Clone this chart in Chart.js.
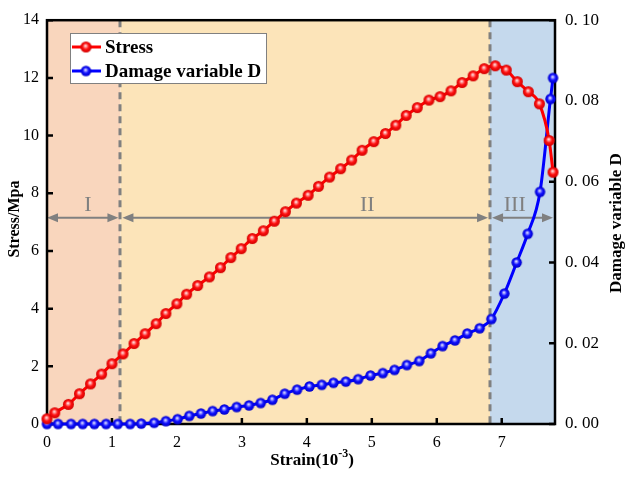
<!DOCTYPE html>
<html>
<head>
<meta charset="utf-8">
<script src="https://cdn.jsdelivr.net/npm/chart.js@4/dist/chart.umd.min.js"></script>
<style>
  html, body { margin: 0; padding: 0; background: #ffffff; }
  #wrap { width: 626px; height: 478px; }
</style>
</head>
<body>
<div id="wrap"><canvas id="chart" width="626" height="478"></canvas></div>
<script>
// Stress–strain curve (strain in 10^-3, stress in MPa)
const stressStrain = [0.00, 0.12, 0.33, 0.50, 0.67, 0.84, 1.00, 1.17, 1.34, 1.51, 1.68, 1.83, 2.00, 2.15, 2.32, 2.50,
  2.67, 2.83, 2.99, 3.16, 3.33, 3.50, 3.67, 3.84, 4.02, 4.18, 4.35, 4.52, 4.69, 4.85, 5.03, 5.21, 5.37, 5.53,
  5.70, 5.88, 6.05, 6.22, 6.39, 6.56, 6.73, 6.90, 7.07, 7.24, 7.41, 7.58, 7.73, 7.79];
const stressValues = [0.18, 0.39, 0.68, 1.05, 1.39, 1.73, 2.09, 2.43, 2.79, 3.13, 3.48, 3.83, 4.17, 4.50, 4.80, 5.10,
  5.42, 5.77, 6.08, 6.43, 6.70, 7.03, 7.36, 7.66, 7.93, 8.24, 8.56, 8.85, 9.15, 9.49, 9.79, 10.07, 10.36, 10.70,
  10.97, 11.23, 11.35, 11.55, 11.84, 12.07, 12.32, 12.42, 12.27, 11.87, 11.52, 11.10, 9.83, 8.73];

// Damage variable D against strain
const damageStrain = [0.00, 0.17, 0.37, 0.55, 0.73, 0.91, 1.09, 1.28, 1.45, 1.65, 1.83, 2.01, 2.19, 2.37, 2.55, 2.73,
  2.92, 3.11, 3.29, 3.47, 3.66, 3.85, 4.04, 4.23, 4.41, 4.60, 4.79, 4.98, 5.17, 5.35, 5.54, 5.73, 5.91, 6.09,
  6.28, 6.47, 6.66, 6.84, 7.04, 7.23, 7.40, 7.59, 7.75, 7.79];
const damageValues = [0, 0, 0, 0, 0, 0, 0, 0, 0.0001, 0.0003, 0.0007, 0.0012, 0.0020, 0.0026, 0.0032, 0.0036,
  0.0042, 0.0046, 0.0052, 0.0060, 0.0075, 0.0085, 0.0093, 0.0097, 0.0102, 0.0105, 0.0111, 0.0120, 0.0126, 0.0134, 0.0146, 0.0156, 0.0175, 0.0193,
  0.0207, 0.0224, 0.0237, 0.0260, 0.0323, 0.0400, 0.0471, 0.0575, 0.0805, 0.0857];

// Axis ticks
const strainTicks = [0, 1, 2, 3, 4, 5, 6, 7];
const stressTicks = [0, 2, 4, 6, 8, 10, 12, 14];
const damageTicks = [0, 0.02, 0.04, 0.06, 0.08, 0.10];
const damageTickLabels = ['0. 00', '0. 02', '0. 04', '0. 06', '0. 08', '0. 10'];

// Deformation stages: boundaries on the strain axis, names, label anchors
const stageBounds = [0, 1.13, 6.82, 7.82];
const stageNames = ['I', 'II', 'III'];
const stageLabelStrain = [0.63, 4.93, 7.2];
const stageArrowStress = 7.15;
const stageLabelStress = 7.6;

const stageFill = ['#f9d6bd', '#fce4b9', '#c5d9ed'];
const GREY = '#808080';
const SERIF = '"Liberation Serif", "DejaVu Serif", serif';

function ballImage(r, hi, mid, edge) {
  const s = Math.ceil(r * 2) + 2;
  const c = document.createElement('canvas');
  c.width = s; c.height = s;
  const g = c.getContext('2d');
  const cx = s / 2, cy = s / 2;
  const grad = g.createRadialGradient(cx - r * 0.1, cy - r * 0.25, 0, cx, cy, r);
  grad.addColorStop(0, '#ffffff');
  grad.addColorStop(0.22, hi);
  grad.addColorStop(0.55, mid);
  grad.addColorStop(1, edge);
  g.fillStyle = grad;
  g.beginPath();
  g.arc(cx, cy, r, 0, Math.PI * 2);
  g.fill();
  return c;
}
const redBall = ballImage(5.5, '#ff9a9a', '#ff1010', '#d00000');
const blueBall = ballImage(5.2, '#9a9aff', '#1010ff', '#0000c8');

const toPoints = (xs, ys) => xs.map((x, i) => ({ x, y: ys[i] }));

const decorations = {
  id: 'decorations',
  beforeDatasetsDraw(chart) {
    const { ctx, chartArea: a, scales } = chart;
    const xs = scales.x, ys = scales.y;
    ctx.save();
    // stage backgrounds
    for (let i = 0; i < stageNames.length; i++) {
      const x0 = xs.getPixelForValue(stageBounds[i]);
      const x1 = Math.min(xs.getPixelForValue(stageBounds[i + 1]), a.right);
      ctx.fillStyle = stageFill[i];
      ctx.fillRect(x0, a.top, x1 - x0, a.bottom - a.top);
    }
    // dashed stage boundaries
    ctx.strokeStyle = GREY;
    ctx.lineWidth = 3;
    ctx.setLineDash([7, 5]);
    for (let i = 1; i < stageBounds.length - 1; i++) {
      const x = Math.round(xs.getPixelForValue(stageBounds[i]));
      ctx.beginPath();
      ctx.moveTo(x, a.top);
      ctx.lineTo(x, a.bottom);
      ctx.stroke();
    }
    ctx.setLineDash([]);
    // double-headed range arrows
    const ay = ys.getPixelForValue(stageArrowStress);
    ctx.lineWidth = 2;
    ctx.fillStyle = GREY;
    const head = (tip, dir) => {
      ctx.beginPath();
      ctx.moveTo(tip, ay);
      ctx.lineTo(tip - dir * 11, ay - 4.5);
      ctx.lineTo(tip - dir * 11, ay + 4.5);
      ctx.closePath();
      ctx.fill();
    };
    for (let i = 0; i < stageNames.length; i++) {
      const x0 = xs.getPixelForValue(stageBounds[i]) + (i === 0 ? 0 : 2);
      const x1 = Math.min(xs.getPixelForValue(stageBounds[i + 1]), a.right) - 2;
      ctx.beginPath();
      ctx.moveTo(x0 + 4, ay);
      ctx.lineTo(x1 - 4, ay);
      ctx.stroke();
      head(x0, -1);
      head(x1, 1);
      ctx.font = '22px ' + SERIF;
      ctx.textAlign = 'center';
      ctx.textBaseline = 'middle';
      ctx.fillText(stageNames[i], xs.getPixelForValue(stageLabelStrain[i]), ys.getPixelForValue(stageLabelStress));
    }
    // frame
    ctx.strokeStyle = '#000000';
    ctx.lineWidth = 2.5;
    ctx.strokeRect(a.left, a.top, a.right - a.left, a.bottom - a.top);
    // inward ticks
    ctx.lineWidth = 2.5;
    ctx.beginPath();
    strainTicks.forEach(v => {
      const x = xs.getPixelForValue(v);
      ctx.moveTo(x, a.bottom); ctx.lineTo(x, a.bottom - 6);
    });
    stressTicks.forEach(v => {
      const y = ys.getPixelForValue(v);
      ctx.moveTo(a.left, y); ctx.lineTo(a.left + 6, y);
    });
    damageTicks.forEach(v => {
      const y = scales.y2.getPixelForValue(v);
      ctx.moveTo(a.right, y); ctx.lineTo(a.right - 6, y);
    });
    ctx.stroke();
    // axis titles
    ctx.fillStyle = '#000000';
    ctx.textAlign = 'center';
    ctx.textBaseline = 'middle';
    const midY = (a.top + a.bottom) / 2;
    ctx.save();
    ctx.translate(15, midY - 3);
    ctx.rotate(-Math.PI / 2);
    ctx.font = 'bold 16px ' + SERIF;
    ctx.fillText('Stress/Mpa', 0, 0);
    ctx.restore();
    ctx.save();
    ctx.translate(617, midY + 1);
    ctx.rotate(-Math.PI / 2);
    ctx.font = 'bold 17px ' + SERIF;
    ctx.fillText('Damage variable D', 0, 0);
    ctx.restore();
    // Strain(10^-3) with superscript exponent
    const base = 'Strain(10', sup = '-3', close = ')';
    ctx.font = 'bold 17px ' + SERIF;
    const wBase = ctx.measureText(base).width, wClose = ctx.measureText(close).width;
    ctx.font = 'bold 12px ' + SERIF;
    const wSup = ctx.measureText(sup).width;
    let x = 312 - (wBase + wSup + wClose) / 2;
    const ty = 465;
    ctx.textAlign = 'left';
    ctx.textBaseline = 'alphabetic';
    ctx.font = 'bold 17px ' + SERIF;
    ctx.fillText(base, x, ty);
    x += wBase;
    ctx.font = 'bold 12px ' + SERIF;
    ctx.fillText(sup, x, ty - 8);
    x += wSup;
    ctx.font = 'bold 17px ' + SERIF;
    ctx.fillText(close, x, ty);
    ctx.restore();
  },
  afterDatasetsDraw(chart) {
    const { ctx } = chart;
    ctx.save();
    // legend box
    const bx = 70, by = 33, bw = 196, bh = 50;
    ctx.fillStyle = '#ffffff';
    ctx.fillRect(bx, by, bw, bh);
    ctx.strokeStyle = GREY;
    ctx.lineWidth = 1;
    ctx.strokeRect(bx + 0.5, by + 0.5, bw, bh);
    chart.data.datasets.forEach((ds, i) => {
      const cy = by + 14 + i * 24;
      ctx.strokeStyle = ds.borderColor;
      ctx.lineWidth = 3;
      ctx.beginPath();
      ctx.moveTo(bx + 2, cy);
      ctx.lineTo(bx + 31, cy);
      ctx.stroke();
      const img = ds.pointStyle;
      ctx.drawImage(img, bx + 16 - img.width / 2, cy - img.height / 2);
      ctx.fillStyle = '#000000';
      ctx.font = 'bold 19px ' + SERIF;
      ctx.textAlign = 'left';
      ctx.textBaseline = 'middle';
      ctx.fillText(ds.label, bx + 35, cy + 1);
    });
    ctx.restore();
  }
};

new Chart(document.getElementById('chart'), {
  type: 'line',
  data: {
    datasets: [
      {
        label: 'Stress',
        data: toPoints(stressStrain, stressValues),
        yAxisID: 'y',
        borderColor: '#ff0000',
        borderWidth: 3,
        pointStyle: redBall,
        cubicInterpolationMode: 'monotone',
        clip: false
      },
      {
        label: 'Damage variable D',
        data: toPoints(damageStrain, damageValues),
        yAxisID: 'y2',
        borderColor: '#0000ff',
        borderWidth: 3,
        pointStyle: blueBall,
        cubicInterpolationMode: 'monotone',
        clip: false
      }
    ]
  },
  options: {
    responsive: false,
    animation: false,
    devicePixelRatio: 1,
    layout: { padding: { top: 14, left: 0, right: 0, bottom: 0 } },
    plugins: { legend: { display: false }, tooltip: { enabled: false } },
    scales: {
      x: {
        type: 'linear',
        min: stageBounds[0],
        max: stageBounds[stageBounds.length - 1],
        grid: { display: false, drawTicks: false },
        border: { display: false },
        afterBuildTicks: s => { s.ticks = strainTicks.map(v => ({ value: v })); },
        afterFit: s => { s.height = 54; },
        ticks: { padding: 9, color: '#000', font: { family: SERIF, size: 16 }, maxRotation: 0 }
      },
      y: {
        position: 'left',
        min: 0, max: 14,
        grid: { display: false, drawTicks: false },
        border: { display: false },
        afterBuildTicks: s => { s.ticks = stressTicks.map(v => ({ value: v })); },
        afterFit: s => { s.width = 47; },
        ticks: { padding: 8, color: '#000', font: { family: SERIF, size: 16 } }
      },
      y2: {
        position: 'right',
        min: 0, max: 0.1,
        grid: { display: false, drawTicks: false },
        border: { display: false },
        afterBuildTicks: s => { s.ticks = damageTicks.map(v => ({ value: v })); },
        afterFit: s => { s.width = 71; },
        ticks: {
          padding: 10, color: '#000', font: { family: SERIF, size: 17 },
          callback: (v, i) => damageTickLabels[i]
        }
      }
    }
  },
  plugins: [decorations]
});
</script>
</body>
</html>
